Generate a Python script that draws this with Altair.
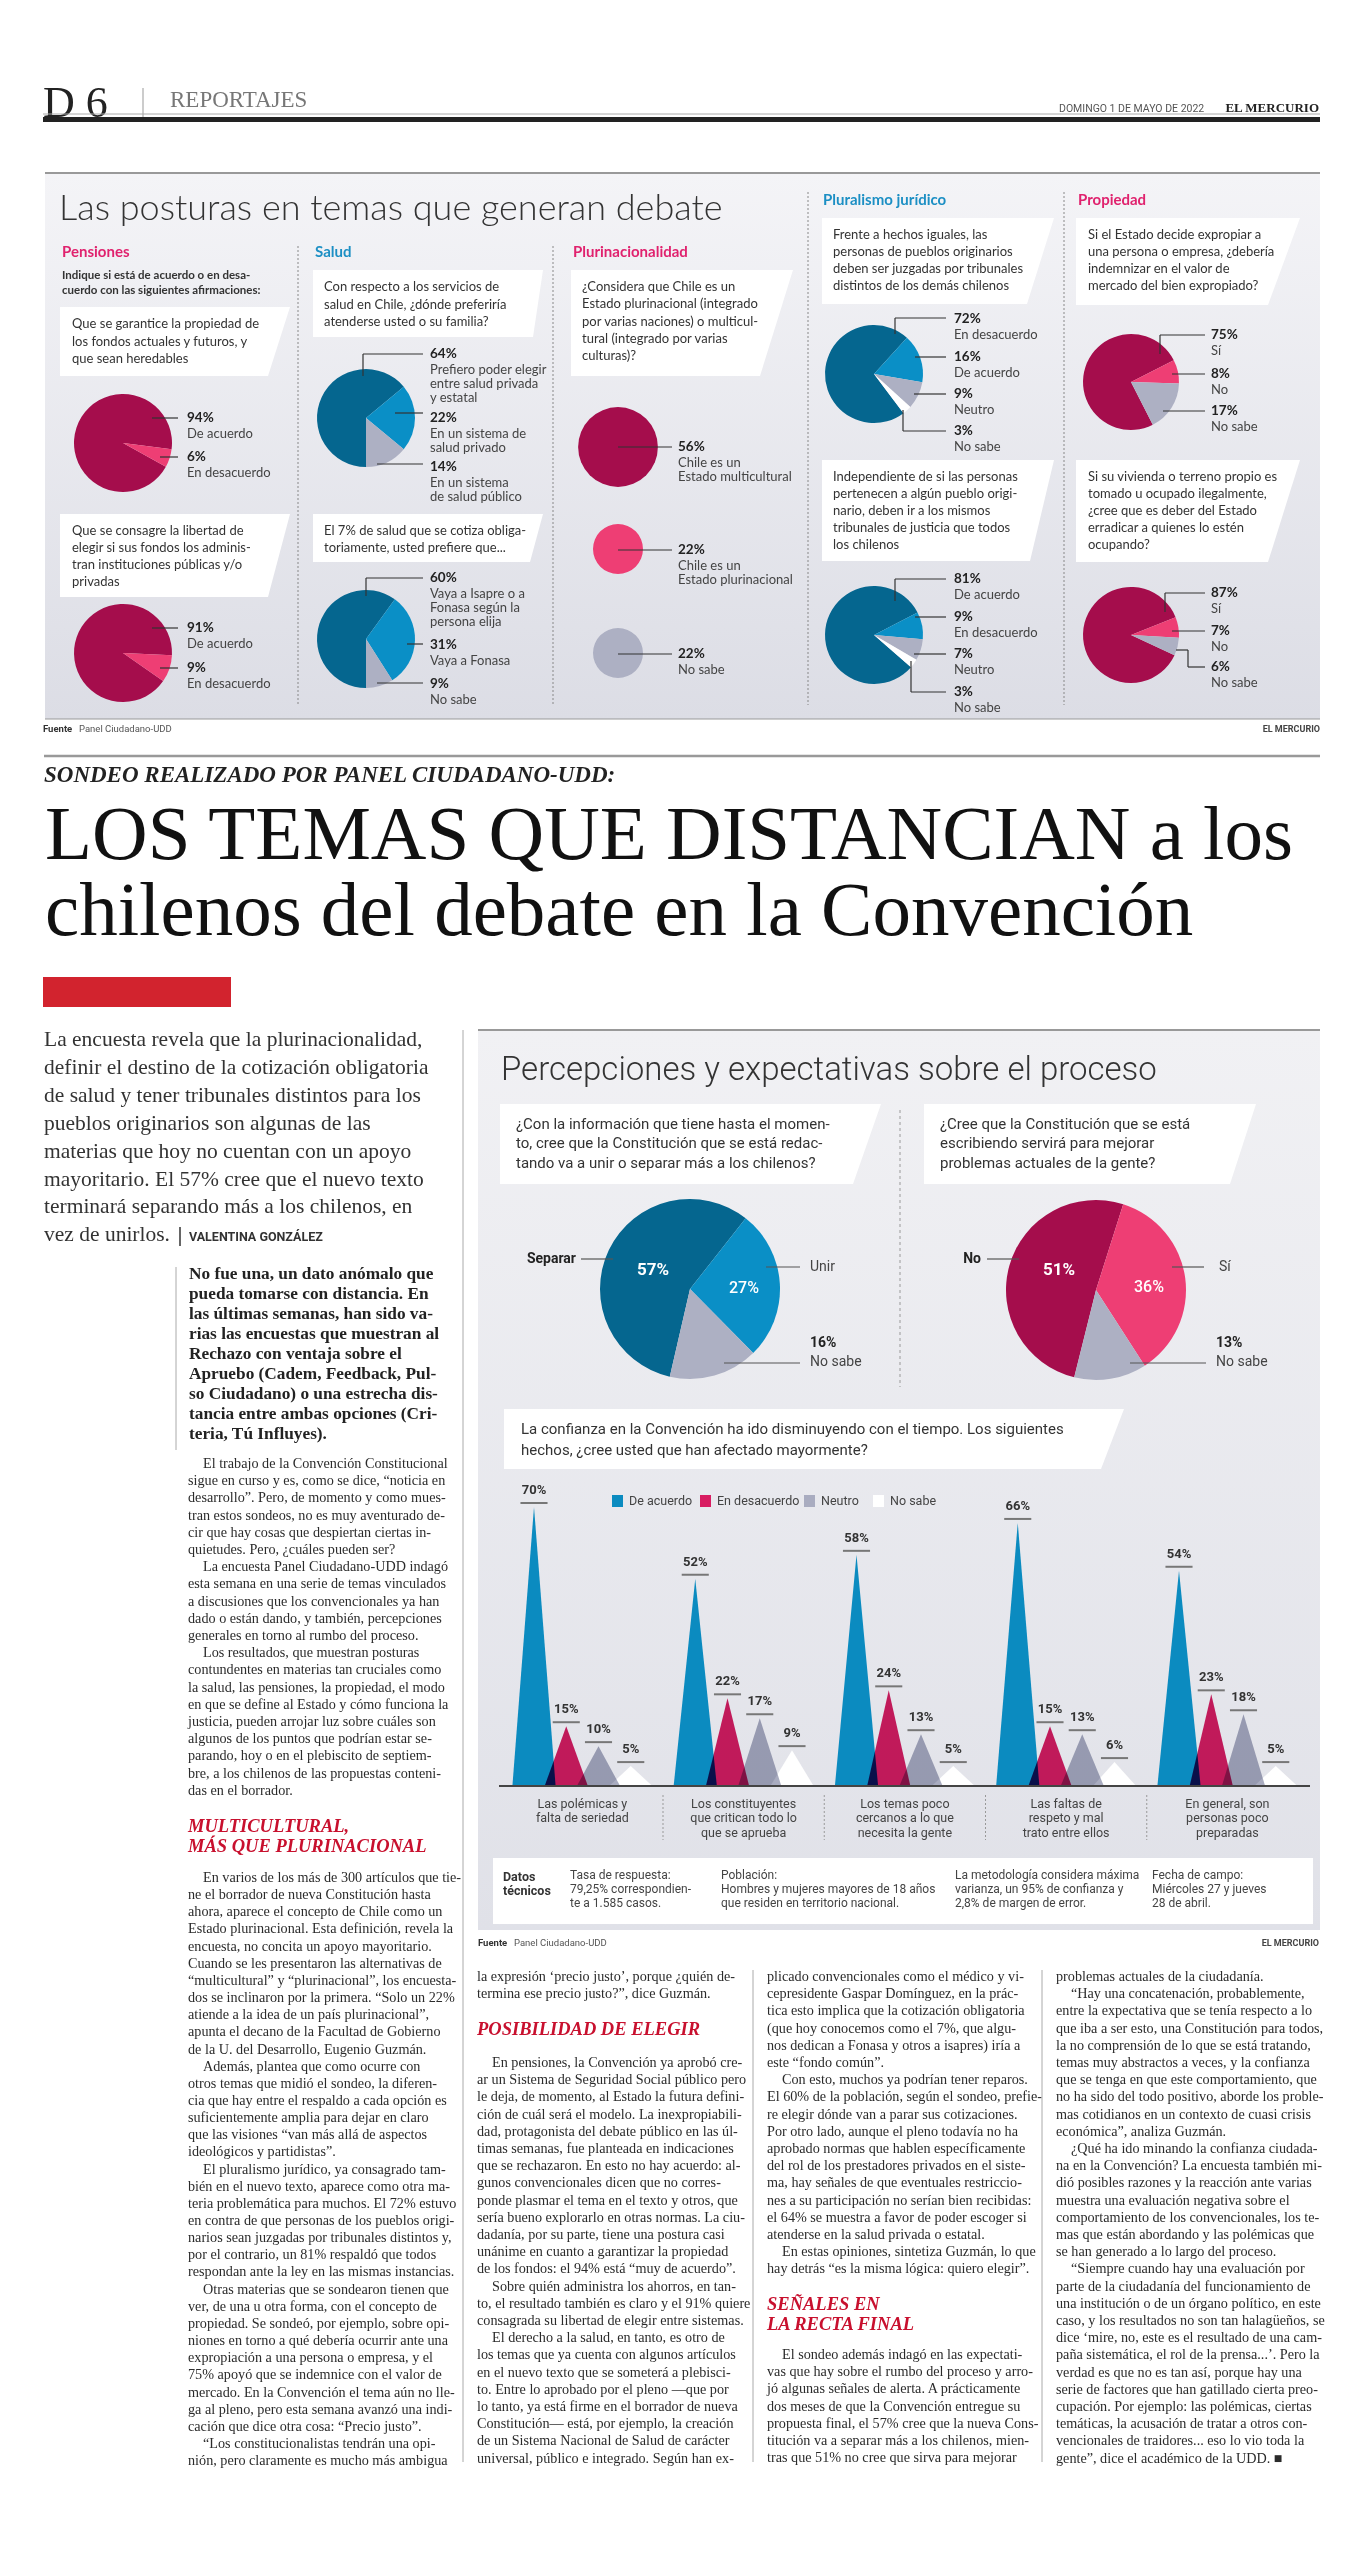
import math
import altair as alt
import pandas as pd

# ================= values read from the page =================
pens_q1 = [94, 6]
pens_q2 = [91, 9]
pens_lab = ["De acuerdo", "En desacuerdo"]
salud_q1 = [64, 22, 14]
salud_q1_lab = ["Prefiero poder elegir\nentre salud privada\ny estatal", "En un sistema de\nsalud privado", "En un sistema\nde salud público"]
salud_q2 = [60, 31, 9]
salud_q2_lab = ["Vaya a Isapre o a\nFonasa según la\npersona elija", "Vaya a Fonasa", "No sabe"]
pluri = [56, 22, 22]
pluri_lab = ["Chile es un\nEstado multicultural", "Chile es un\nEstado plurinacional", "No sabe"]
jur_q1 = [72, 16, 9, 3]
jur_q1_lab = ["En desacuerdo", "De acuerdo", "Neutro", "No sabe"]
jur_q2 = [81, 9, 7, 3]
jur_q2_lab = ["De acuerdo", "En desacuerdo", "Neutro", "No sabe"]
prop_q1 = [75, 8, 17]
prop_q2 = [87, 7, 6]
prop_lab = ["Sí", "No", "No sabe"]
unir = [57, 27, 16]
unir_lab = ["Separar", "Unir", "No sabe"]
mejorar = [51, 36, 13]
mejorar_lab = ["No", "Sí", "No sabe"]

factores = ["Las polémicas y\nfalta de seriedad", "Los constituyentes\nque critican todo lo\nque se aprueba",
            "Los temas poco\ncercanos a lo que\nnecesita la gente", "Las faltas de\nrespeto y mal\ntrato entre ellos",
            "En general, son\npersonas poco\npreparadas"]
series = ["De acuerdo", "En desacuerdo", "Neutro", "No sabe"]
de_acuerdo = [70, 52, 58, 66, 54]
en_desacuerdo = [15, 22, 24, 15, 23]
neutro = [10, 17, 13, 13, 18]
no_sabe = [5, 9, 5, 6, 5]

# ================= style / layout =================
W, H = 1346, 2536
SERIF = "Liberation Serif"
SANS = "Lato"
COND = "Roboto"
DM, PK, GR, DB, MB, WH = "#a50d4c", "#ee3e74", "#adb0c3", "#05668f", "#0a8fc6", "#ffffff"
PINK_H, BLUE_H = "#e0226e", "#1c8fc4"
RED = "#c8102e"
TRI_COL = ["#0b8bc0", "#d81d62", "#a9acc0", "#ffffff"]

XS = alt.Scale(domain=[8, 8 + W], range=[0, W], nice=False, zero=False)
YS = alt.Scale(domain=[8, 8 + H], range=[0, H], nice=False, zero=False)


def ex(f="x"):
    return alt.X(f"{f}:Q", scale=XS, axis=None)


def ey(f="y"):
    return alt.Y(f"{f}:Q", scale=YS, axis=None, stack=None)


layers = []


def text(rows, size, font=SANS, weight="normal", color="#333", align="left", style="normal", lh=None, center=False):
    rows = [(x, (y + 0.32 * size) if center else y, t) for x, y, t in rows]
    df = pd.DataFrame(rows, columns=["x", "y", "t"])
    mk = dict(align=align, baseline="alphabetic", font=font, fontSize=size, fontWeight=weight,
              color=color, fontStyle=style, lineBreak="\n")
    if lh:
        mk["lineHeight"] = lh
    layers.append(alt.Chart(df).mark_text(**mk).encode(x=ex(), y=ey(), text="t:N"))


def para(x0, y0, lh, lines, size=14.2, font=SERIF, weight="normal", color="#2b2b2b", indent=15):
    rows = []
    for i, ln in enumerate(lines):
        ind = ln.startswith(">")
        rows.append((x0 + (indent if ind else 0), y0 + i * lh, ln[1:] if ind else ln))
    text(rows, size, font, weight, color)


def rules(rows, color="#333", width=1.0, dash=None):
    df = pd.DataFrame(rows, columns=["x", "y", "x2", "y2"])
    mk = dict(color=color, strokeWidth=width)
    if dash:
        mk["strokeDash"] = dash
    layers.append(alt.Chart(df).mark_rule(**mk).encode(x=ex(), y=ey(), x2="x2:Q", y2="y2:Q"))


def rects(rows, color):
    df = pd.DataFrame(rows, columns=["x", "y", "x2", "y2"])
    layers.append(alt.Chart(df).mark_rect(color=color).encode(x=ex(), y=ey(), x2="x2:Q", y2="y2:Q"))


def grad(c1, c2):
    return alt.Gradient(gradient="linear",
                        stops=[alt.GradientStop(color=c1, offset=0), alt.GradientStop(color=c2, offset=1)],
                        x1=0, x2=0, y1=0, y2=1)


def boxes(specs):
    rows = []
    for i, (L, Rt, Rb, top, bot) in enumerate(specs):
        rows += [(i, L, top, bot), (i, Rb, top, bot), (i, Rt, top, top)]
    df = pd.DataFrame(rows, columns=["b", "x", "y", "y2"])
    layers.append(alt.Chart(df).mark_area(color="white", orient="vertical", interpolate="linear")
                  .encode(x=ex(), y=ey(), y2="y2:Q", detail="b:N"))


def pie(vals, cols, cx, cy, r, start):
    df = pd.DataFrame({"v": vals, "c": cols, "i": list(range(len(vals)))})
    s = math.radians(start)
    layers.append(alt.Chart(df).mark_arc(radius=r).encode(
        theta=alt.Theta("v:Q", stack=True, scale=alt.Scale(domain=[0, 100], range=[s, s + 2 * math.pi])),
        color=alt.Color("c:N", scale=None),
        order=alt.Order("i:Q"),
        x=alt.value(cx - 8), y=alt.value(cy - 8)))


def pie_labels(vals, labels, ys, lx):
    text([(lx, y, f"{v}%") for v, y in zip(vals, ys)], 13.5, SANS, "bold", "#222", center=True)
    text([(lx, y + 16, l) for l, y in zip(labels, ys)], 13, SANS, color="#444", lh=14, center=True)


# ================= page header =================
text([(43, 117, "D 6")], 44, SERIF, color="#222")
rules([(143, 88, 143, 117)], "#999", 1)
text([(170, 107, "REPORTAJES")], 23, SERIF, color="#777")
text([(1059, 112, "DOMINGO 1 DE MAYO DE 2022")], 10.5, COND, color="#555")
text([(1319, 112, "EL MERCURIO")], 13, SERIF, "bold", "#222", align="right")
rules([(43, 114, 1320, 114)], "#aaa", 1)
rules([(43, 119.5, 1320, 119.5)], "#222", 5)

# ================= top infographic =================
rects([(45, 174, 1320, 719)], grad("#f4f4f7", "#dcdde5"))
rules([(45, 173, 1320, 173)], "#999", 2)
rules([(45, 719, 1320, 719)], "#999", 1)
text([(59, 220, "Las posturas en temas que generan debate")], 36, SANS, 300, "#333")
rules([(298, 246, 298, 705), (553, 246, 553, 705), (808, 192, 808, 705), (1064, 192, 1064, 705)],
      "#888", 1, [2, 2])
text([(62, 252, "Pensiones"), (573, 252, "Plurinacionalidad"), (1078, 200, "Propiedad")], 15, SANS, "bold",
     PINK_H, center=True)
text([(315, 252, "Salud"), (823, 200, "Pluralismo jurídico")], 15, SANS, "bold", BLUE_H, center=True)
text([(62, 275, "Indique si está de acuerdo o en desa-\ncuerdo con las siguientes afirmaciones:")], 11.5, SANS,
     "bold", "#333", lh=15.5, center=True)

boxes([(60, 290, 268, 307, 376), (60, 290, 268, 514, 597),
       (313, 543, 533, 270, 337), (313, 543, 530, 514, 562),
       (571, 793, 760, 270, 376),
       (822, 1054, 1027, 218, 304), (822, 1054, 1030, 460, 561),
       (1076, 1300, 1268, 218, 305), (1076, 1300, 1268, 460, 562)])

qs = [
    (72, 324, 17.5, "Que se garantice la propiedad de\nlos fondos actuales y futuros, y\nque sean heredables"),
    (72, 531, 16.8, "Que se consagre la libertad de\nelegir si sus fondos los adminis-\ntran instituciones públicas y/o\nprivadas"),
    (324, 287, 17.5, "Con respecto a los servicios de\nsalud en Chile, ¿dónde preferiría\natenderse usted o su familia?"),
    (324, 531, 17, "El 7% de salud que se cotiza obliga-\ntoriamente, usted prefiere que..."),
    (582, 287, 17.2, "¿Considera que Chile es un\nEstado plurinacional (integrado\npor varias naciones) o multicul-\ntural (integrado por varias\nculturas)?"),
    (833, 235, 17, "Frente a hechos iguales, las\npersonas de pueblos originarios\ndeben ser juzgadas por tribunales\ndistintos de los demás chilenos"),
    (833, 477, 17, "Independiente de si las personas\npertenecen a algún pueblo origi-\nnario, deben ir a los mismos\ntribunales de justicia que todos\nlos chilenos"),
    (1088, 235, 17, "Si el Estado decide expropiar a\nuna persona o empresa, ¿debería\nindemnizar en el valor de\nmercado del bien expropiado?"),
    (1088, 477, 17, "Si su vivienda o terreno propio es\ntomado u ocupado ilegalmente,\n¿cree que es deber del Estado\nerradicar a quienes lo estén\nocupando?"),
]
for x, y, lh, t in qs:
    text([(x, y, t)], 13, SANS, color="#333", lh=lh, center=True)

pie(pens_q1, [DM, PK], 123, 443, 49, 119)
pie(pens_q2, [DM, PK], 123, 653, 49, 125)
pie(salud_q1, [DB, MB, GR], 366, 418, 49, 180)
pie(salud_q2, [DB, MB, GR], 366, 639, 49, 180)
pie(jur_q1, [DB, MB, GR, WH], 874, 374, 49, 143)
pie(jur_q2, [DB, MB, GR, WH], 874, 635, 49, 131)
pie(prop_q1, [DM, PK, GR], 1131, 382, 48, 153)
pie(prop_q2, [DM, PK, GR], 1131, 635, 48, 115)

pl = pd.DataFrame({"v": pluri, "c": [DM, PK, GR], "cx": [618, 618, 618], "cy": [447, 549, 653]})
layers.append(alt.Chart(pl).mark_circle(opacity=1).encode(
    x=ex("cx"), y=ey("cy"),
    size=alt.Size("v:Q", scale=alt.Scale(domain=[0, 56], range=[0, math.pi * 45 ** 2]), legend=None),
    color=alt.Color("c:N", scale=None)))

rules([(152, 418, 178, 418), (160, 457, 178, 457), (152, 628, 178, 628), (160, 668, 178, 668),
       (363, 376, 363, 354), (363, 354, 423, 354), (395, 413, 423, 413), (377, 464, 423, 464),
       (366, 596, 366, 578), (366, 578, 423, 578), (407, 644, 423, 644), (377, 683, 423, 683),
       (618, 447, 672, 447), (618, 550, 672, 550), (618, 654, 672, 654),
       (895, 334, 895, 318), (895, 318, 946, 318), (915, 357, 946, 357), (914, 394, 946, 394),
       (903, 410, 903, 431), (903, 431, 946, 431),
       (895, 601, 895, 579), (895, 579, 946, 579), (915, 617, 946, 617), (914, 654, 946, 654),
       (911, 661, 911, 692), (911, 692, 946, 692),
       (1160, 354, 1160, 335), (1160, 335, 1205, 335), (1172, 374, 1205, 374), (1163, 411, 1205, 411),
       (1165, 612, 1165, 593), (1165, 593, 1205, 593), (1172, 631, 1205, 631),
       (1176, 650, 1188, 650), (1188, 650, 1188, 667), (1188, 667, 1205, 667)], "#333", 1.2)

pie_labels(pens_q1, pens_lab, [418, 457], 187)
pie_labels(pens_q2, pens_lab, [628, 668], 187)
pie_labels(salud_q1, salud_q1_lab, [354, 418, 467], 430)
pie_labels(salud_q2, salud_q2_lab, [578, 645, 684], 430)
pie_labels(pluri, pluri_lab, [447, 550, 654], 678)
pie_labels(jur_q1, jur_q1_lab, [319, 357, 394, 431], 954)
pie_labels(jur_q2, jur_q2_lab, [579, 617, 654, 692], 954)
pie_labels(prop_q1, prop_lab, [335, 374, 411], 1211)
pie_labels(prop_q2, prop_lab, [593, 631, 667], 1211)

text([(43, 732, "Fuente")], 9.5, COND, "bold", "#333")
text([(79, 732, "Panel Ciudadano-UDD")], 9.5, COND, color="#555")
text([(1320, 732, "EL MERCURIO")], 9, COND, "bold", "#444", align="right")

# ================= headline =================
rules([(44, 756, 1320, 756)], "#999", 2.5)
text([(44, 782, "SONDEO REALIZADO POR PANEL CIUDADANO-UDD:")], 23, SERIF, "bold", "#222", style="italic")
text([(45, 859, "LOS TEMAS QUE DISTANCIAN a los")], 77, SERIF, color="#111")
text([(45, 935, "chilenos del debate en la Convención")], 77, SERIF, color="#111")
rects([(43, 977, 231, 1007)], "#d2232e")

deck = ["La encuesta revela que la plurinacionalidad,", "definir el destino de la cotización obligatoria",
        "de salud y tener tribunales distintos para los", "pueblos originarios son algunas de las",
        "materias que hoy no cuentan con un apoyo", "mayoritario. El 57% cree que el nuevo texto",
        "terminará separando más a los chilenos, en", "vez de unirlos."]
para(44, 1046, 27.9, deck, 21.5, SERIF, color="#333")
rules([(180, 1227, 180, 1246)], "#333", 1.5)
text([(189, 1241, "VALENTINA GONZÁLEZ")], 12.5, COND, "bold", "#333")

rules([(463, 1030, 463, 2462), (176, 1267, 176, 1450)], "#aaa", 1)

lead = ["No fue una, un dato anómalo que", "pueda tomarse con distancia. En", "las últimas semanas, han sido va-",
        "rias las encuestas que muestran al", "Rechazo con ventaja sobre el", "Apruebo (Cadem, Feedback, Pul-",
        "so Ciudadano) o una estrecha dis-", "tancia entre ambas opciones (Cri-", "teria, Tú Influyes)."]
para(189, 1279, 20, lead, 17.3, SERIF, "bold", "#222")

col1a = [">El trabajo de la Convención Constitucional", "sigue en curso y es, como se dice, “noticia en",
         "desarrollo”. Pero, de momento y como mues-", "tran estos sondeos, no es muy aventurado de-",
         "cir que hay cosas que despiertan ciertas in-", "quietudes. Pero, ¿cuáles pueden ser?",
         ">La encuesta Panel Ciudadano-UDD indagó", "esta semana en una serie de temas vinculados",
         "a discusiones que los convencionales ya han", "dado o están dando, y también, percepciones",
         "generales en torno al rumbo del proceso.", ">Los resultados, que muestran posturas",
         "contundentes en materias tan cruciales como", "la salud, las pensiones, la propiedad, el modo",
         "en que se define al Estado y cómo funciona la", "justicia, pueden arrojar luz sobre cuáles son",
         "algunos de los puntos que podrían estar se-", "parando, hoy o en el plebiscito de septiem-",
         "bre, a los chilenos de las propuestas conteni-", "das en el borrador."]
col1b = [">En varios de los más de 300 artículos que tie-", "ne el borrador de nueva Constitución hasta",
         "ahora, aparece el concepto de Chile como un", "Estado plurinacional. Esta definición, revela la",
         "encuesta, no concita un apoyo mayoritario.", "Cuando se les presentaron las alternativas de",
         "“multicultural” y “plurinacional”, los encuesta-", "dos se inclinaron por la primera. “Solo un 22%",
         "atiende a la idea de un país plurinacional”,", "apunta el decano de la Facultad de Gobierno",
         "de la U. del Desarrollo, Eugenio Guzmán.", ">Además, plantea que como ocurre con",
         "otros temas que midió el sondeo, la diferen-", "cia que hay entre el respaldo a cada opción es",
         "suficientemente amplia para dejar en claro", "que las visiones “van más allá de aspectos",
         "ideológicos y partidistas”.", ">El pluralismo jurídico, ya consagrado tam-",
         "bién en el nuevo texto, aparece como otra ma-", "teria problemática para muchos. El 72% estuvo",
         "en contra de que personas de los pueblos origi-", "narios sean juzgadas por tribunales distintos y,",
         "por el contrario, un 81% respaldó que todos", "respondan ante la ley en las mismas instancias.",
         ">Otras materias que se sondearon tienen que", "ver, de una u otra forma, con el concepto de",
         "propiedad. Se sondeó, por ejemplo, sobre opi-", "niones en torno a qué debería ocurrir ante una",
         "expropiación a una persona o empresa, y el", "75% apoyó que se indemnice con el valor de",
         "mercado. En la Convención el tema aún no lle-", "ga al pleno, pero esta semana avanzó una indi-",
         "cación que dice otra cosa: “Precio justo”.", ">“Los constitucionalistas tendrán una opi-",
         "nión, pero claramente es mucho más ambigua"]
col2a = ["la expresión ‘precio justo’, porque ¿quién de-", "termina ese precio justo?”, dice Guzmán."]
col2b = [">En pensiones, la Convención ya aprobó cre-", "ar un Sistema de Seguridad Social público pero",
         "le deja, de momento, al Estado la futura defini-", "ción de cuál será el modelo. La inexpropiabili-",
         "dad, protagonista del debate público en las úl-", "timas semanas, fue planteada en indicaciones",
         "que se rechazaron. En esto no hay acuerdo: al-", "gunos convencionales dicen que no corres-",
         "ponde plasmar el tema en el texto y otros, que", "sería bueno explorarlo en otras normas. La ciu-",
         "dadanía, por su parte, tiene una postura casi", "unánime en cuanto a garantizar la propiedad",
         "de los fondos: el 94% está “muy de acuerdo”.", ">Sobre quién administra los ahorros, en tan-",
         "to, el resultado también es claro y el 91% quiere", "consagrada su libertad de elegir entre sistemas.",
         ">El derecho a la salud, en tanto, es otro de", "los temas que ya cuenta con algunos artículos",
         "en el nuevo texto que se someterá a plebisci-", "to. Entre lo aprobado por el pleno —que por",
         "lo tanto, ya está firme en el borrador de nueva", "Constitución— está, por ejemplo, la creación",
         "de un Sistema Nacional de Salud de carácter", "universal, público e integrado. Según han ex-"]
col3a = ["plicado convencionales como el médico y vi-", "cepresidente Gaspar Domínguez, en la prác-",
         "tica esto implica que la cotización obligatoria", "(que hoy conocemos como el 7%, que algu-",
         "nos dedican a Fonasa y otros a isapres) iría a", "este “fondo común”.",
         ">Con esto, muchos ya podrían tener reparos.", "El 60% de la población, según el sondeo, prefie-",
         "re elegir dónde van a parar sus cotizaciones.", "Por otro lado, aunque el pleno todavía no ha",
         "aprobado normas que hablen específicamente", "del rol de los prestadores privados en el siste-",
         "ma, hay señales de que eventuales restriccio-", "nes a su participación no serían bien recibidas:",
         "el 64% se muestra a favor de poder escoger si", "atenderse en la salud privada o estatal.",
         ">En estas opiniones, sintetiza Guzmán, lo que", "hay detrás “es la misma lógica: quiero elegir”."]
col3b = [">El sondeo además indagó en las expectati-", "vas que hay sobre el rumbo del proceso y arro-",
         "jó algunas señales de alerta. A prácticamente", "dos meses de que la Convención entregue su",
         "propuesta final, el 57% cree que la nueva Cons-", "titución va a separar más a los chilenos, mien-",
         "tras que 51% no cree que sirva para mejorar"]
col4 = ["problemas actuales de la ciudadanía.", ">“Hay una concatenación, probablemente,",
        "entre la expectativa que se tenía respecto a lo", "que iba a ser esto, una Constitución para todos,",
        "la no comprensión de lo que se está tratando,", "temas muy abstractos a veces, y la confianza",
        "que se tenga en que este comportamiento, que", "no ha sido del todo positivo, aborde los proble-",
        "mas cotidianos en un contexto de cuasi crisis", "económica”, analiza Guzmán.",
        ">¿Qué ha ido minando la confianza ciudada-", "na en la Convención? La encuesta también mi-",
        "dió posibles razones y la reacción ante varias", "muestra una evaluación negativa sobre el",
        "comportamiento de los convencionales, los te-", "mas que están abordando y las polémicas que",
        "se han generado a lo largo del proceso.", ">“Siempre cuando hay una evaluación por",
        "parte de la ciudadanía del funcionamiento de", "una institución o de un órgano político, en este",
        "caso, y los resultados no son tan halagüeños, se", "dice ‘mire, no, este es el resultado de una cam-",
        "paña sistemática, el rol de la prensa...’. Pero la", "verdad es que no es tan así, porque hay una",
        "serie de factores que han gatillado cierta preo-", "cupación. Por ejemplo: las polémicas, ciertas",
        "temáticas, la acusación de tratar a otros con-", "vencionales de traidores... eso lo vio toda la",
        "gente”, dice el académico de la UDD. ■"]

para(188, 1468, 17.2, col1a)
para(188, 1882, 17.15, col1b)
para(477, 1981, 17.2, col2a)
para(477, 2067, 17.2, col2b)
para(767, 1981, 17.2, col3a)
para(767, 2359, 17.2, col3b)
para(1056, 1981, 17.2, col4)
text([(188, 1832, "MULTICULTURAL,\nMÁS QUE PLURINACIONAL"), (477, 2035, "POSIBILIDAD DE ELEGIR"),
      (767, 2310, "SEÑALES EN\nLA RECTA FINAL")], 18.5, SERIF, "bold", RED, style="italic", lh=20)
rules([(753, 1970, 753, 2462), (1042, 1970, 1042, 2462)], "#aaa", 1)

# ================= bottom infographic =================
rects([(478, 1031, 1320, 1930)], grad("#f1f1f4", "#e0e1e8"))
rules([(478, 1030, 1320, 1030)], "#999", 2)
text([(501, 1080, "Percepciones y expectativas sobre el proceso")], 33, COND, 300, "#333")
boxes([(500, 881, 853, 1104, 1184), (924, 1256, 1230, 1104, 1184), (504, 1124, 1101, 1409, 1469),
       (493, 1313, 1313, 1858, 1924)])
text([(516, 1124, "¿Con la información que tiene hasta el momen-\nto, cree que la Constitución que se está redac-\ntando va a unir o separar más a los chilenos?"),
      (940, 1124, "¿Cree que la Constitución que se está\nescribiendo servirá para mejorar\nproblemas actuales de la gente?")],
     15, COND, color="#333", lh=19.5, center=True)
text([(521, 1429, "La confianza en la Convención ha ido disminuyendo con el tiempo. Los siguientes\nhechos, ¿cree usted que han afectado mayormente?")],
     15, COND, color="#333", lh=21.7, center=True)
rules([(900, 1110, 900, 1387)], "#999", 1, [3, 3])

pie(unir, [DB, MB, GR], 690, 1289, 90, 193)
pie(mejorar, [DM, PK, GR], 1096, 1290, 90, 194)
rules([(581, 1259, 613, 1259), (766, 1267, 800, 1267), (724, 1363, 800, 1363),
       (987, 1259, 1019, 1259), (1172, 1267, 1204, 1267), (1130, 1363, 1206, 1363)], "#555", 1.2)
text([(576, 1259, unir_lab[0]), (981, 1259, mejorar_lab[0])], 14, COND, "bold", "#222", align="right", center=True)
text([(810, 1267, unir_lab[1]), (1219, 1267, mejorar_lab[1]), (810, 1362, unir_lab[2]), (1216, 1362, mejorar_lab[2])],
     14, COND, color="#444", center=True)
text([(810, 1343, f"{unir[2]}%"), (1216, 1343, f"{mejorar[2]}%")], 14, COND, "bold", "#222", center=True)
text([(653, 1270, f"{unir[0]}%"), (1059, 1270, f"{mejorar[0]}%")], 17, COND, "bold", "white", align="center", center=True)
text([(744, 1288, f"{unir[1]}%"), (1149, 1287, f"{mejorar[1]}%")], 16, COND, 500, "white", align="center", center=True)

# legend
leg_x = [612, 700, 804, 873]
for x, c in zip(leg_x, TRI_COL):
    rects([(x, 1495, x + 11, 1507)], c)
text([(x + 17, 1501, s) for x, s in zip(leg_x, series)], 12.5, COND, color="#444", center=True)

# triangle chart
TXS = alt.Scale(domain=[0, 20], range=[534 - 8, 1179 - 8], nice=False, zero=False)
TYS = alt.Scale(domain=[0, 70], range=[1786 - 8, 1507 - 8], nice=False, zero=False)
HW = 0.67
tri_rows, tick_rows = [], []
for s, vals in enumerate([de_acuerdo, en_desacuerdo, neutro, no_sabe]):
    for g, v in enumerate(vals):
        slot = g * 5 + s
        for d, yy in [(-HW, 0), (0, v), (HW, 0)]:
            tri_rows.append(dict(id=f"{g}-{s}", s=s, x=slot + d, v=yy, b=0))
        tick_rows.append(dict(s=s, x=slot, x1=slot - 0.42, x2=slot + 0.42, v=v, t=f"{v}%"))
tri = pd.DataFrame(tri_rows)
ticks = pd.DataFrame(tick_rows)
for s in [3, 0, 1, 2]:
    mk = dict(color=TRI_COL[s], orient="vertical", interpolate="linear")
    if s in (1, 2):
        mk["blend"] = "multiply"
    layers.append(alt.Chart(tri[tri.s == s]).mark_area(**mk).encode(
        x=alt.X("x:Q", scale=TXS, axis=None),
        y=alt.Y("v:Q", scale=TYS, axis=None, stack=None),
        y2="b:Q", detail="id:N"))
layers.append(alt.Chart(ticks).mark_rule(color="#777", strokeWidth=2, yOffset=-4).encode(
    x=alt.X("x1:Q", scale=TXS, axis=None), x2="x2:Q", y=alt.Y("v:Q", scale=TYS, axis=None)))
layers.append(alt.Chart(ticks).mark_text(font=COND, fontSize=13, fontWeight="bold", color="#333", dy=-17,
                                         baseline="middle").encode(
    x=alt.X("x:Q", scale=TXS, axis=None), y=alt.Y("v:Q", scale=TYS, axis=None), text="t:N"))
rules([(499, 1786, 1310, 1786)], "#444", 2)

cat = pd.DataFrame({"slot": [g * 5 + 1.5 for g in range(5)], "y": [1808] * 5, "t": factores})
layers.append(alt.Chart(cat).mark_text(font=COND, fontSize=12.5, color="#444", align="center",
                                       baseline="alphabetic", lineBreak="\n", lineHeight=14.3).encode(
    x=alt.X("slot:Q", scale=TXS, axis=None), y=ey("y"), text="t:N"))
sep = pd.DataFrame({"slot": [g * 5 + 4 for g in range(4)], "y": [1795] * 4, "y2": [1840] * 4})
layers.append(alt.Chart(sep).mark_rule(color="#999", strokeDash=[2, 2]).encode(
    x=alt.X("slot:Q", scale=TXS, axis=None), y=ey("y"), y2="y2:Q"))

# datos tecnicos
text([(503, 1877, "Datos\ntécnicos")], 12.5, COND, "bold", "#333", lh=14.2, center=True)
text([(570, 1875, "Tasa de respuesta:\n79,25% correspondien-\nte a 1.585 casos."),
      (721, 1875, "Población:\nHombres y mujeres mayores de 18 años\nque residen en territorio nacional."),
      (955, 1875, "La metodología considera máxima\nvarianza, un 95% de confianza y\n2,8% de margen de error."),
      (1152, 1875, "Fecha de campo:\nMiércoles 27 y jueves\n28 de abril.")], 12, COND, color="#444", lh=14.2, center=True)

text([(478, 1946, "Fuente")], 9.5, COND, "bold", "#333")
text([(514, 1946, "Panel Ciudadano-UDD")], 9.5, COND, color="#555")
text([(1319, 1946, "EL MERCURIO")], 9, COND, "bold", "#444", align="right")

chart = alt.layer(*layers).resolve_scale(
    x="independent", y="independent", theta="independent", size="independent"
).properties(
    width=W, height=H, autosize=alt.AutoSizeParams(type="none"), padding=0, background="white"
).configure_view(stroke=None)

chart.save("out.html", embed_options={"renderer": "svg", "actions": False})
